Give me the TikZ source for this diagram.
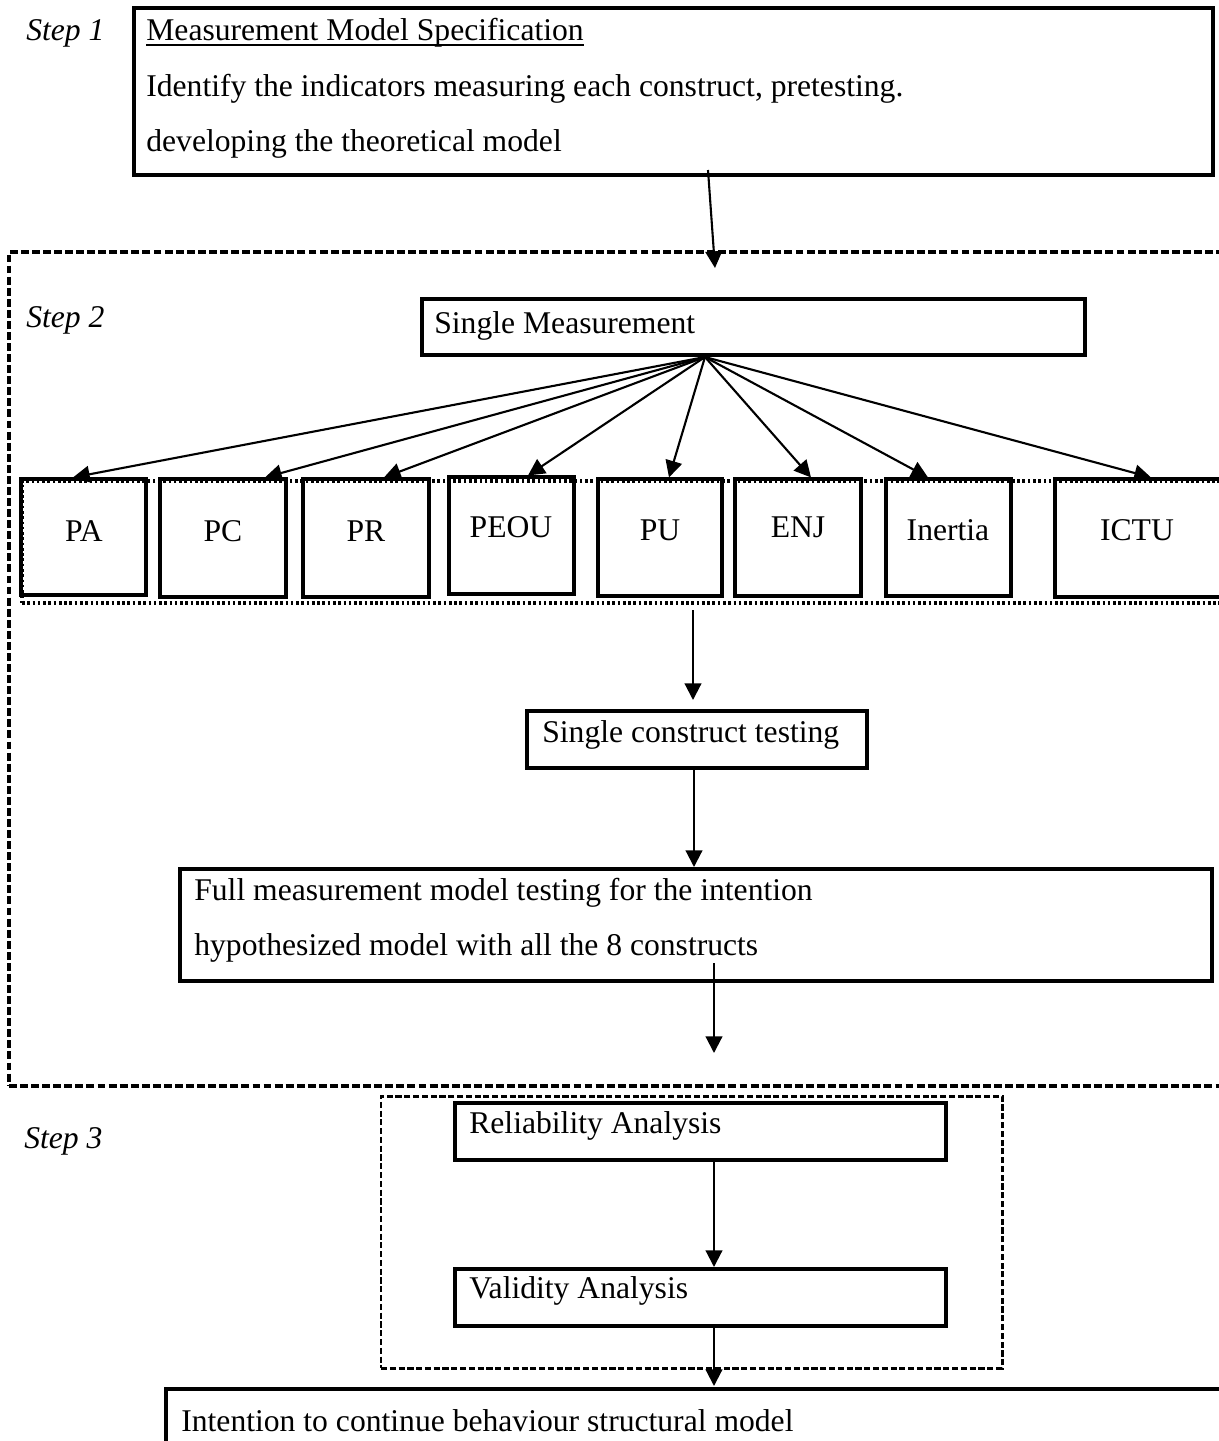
\documentclass[tikz,border=0pt]{standalone}
\usepackage{fontspec}
\setmainfont{Liberation Serif}
\usetikzlibrary{arrows.meta,fit}
\begin{document}
\begin{tikzpicture}[x=0.02cm,y=-0.02cm,
  box/.style={draw,line width=1.8pt,inner sep=0pt},
  txt/.style={inner sep=0pt,anchor=base west,font=\fontsize{18}{22}\selectfont},
  ctxt/.style={inner sep=0pt,anchor=base,font=\fontsize{18}{22}\selectfont},
  steplbl/.style={inner sep=0pt,anchor=base west,font=\fontsize{18}{22}\selectfont\itshape},
  dashbox/.style={draw,line width=1.8pt,dash pattern=on 4.5pt off 1.8pt,inner sep=0pt},
  dashboxthin/.style={draw,line width=1.7pt,dash pattern=on 3.5pt off 1.5pt,inner sep=0pt},
  dotbox/.style={draw,line width=1.9pt,dash pattern=on 1.5pt off 1.5pt,inner sep=0pt},
  arr/.style={line width=1.2pt,-{Triangle[length=9.5pt,width=9.5pt]}}]
\useasboundingbox (0,0) rectangle (1219,1441);
\clip (0,0) rectangle (1219,1441);

% Step 1
\node[steplbl] (s1) at (26,40) {Step 1};
\node[box,fit={(134,8) (1213,175)}] (top) {};
\node[txt] (top1) at (146,40) {Measurement Model Specification};
\draw[line width=1.2pt] ([yshift=-3pt]top1.base west) -- ([yshift=-3pt]top1.base east);
\node[txt] (top2) at (146,96) {Identify the indicators measuring each construct, pretesting.};
\node[txt] (top3) at (146,151) {developing the theoretical model};

% Step 2 container
\node[dashbox,fit={(9,252) (1240,1086)}] (step2) {};
\node[steplbl] (s2) at (26,327) {Step 2};
\coordinate (a1s) at (708,170);
\coordinate (a1e) at (715,268);
\draw[arr] (a1s) -- (a1e);

\node[box,fit={(422,299) (1085,355)}] (sm) {};
\node[txt] (smt) at (434,333) {Single Measurement};
\coordinate (fan) at (705,357);

% constructs
\node[dotbox,fit={(22,481) (1240,603)}] (grp) {};
\node[box,fit={(21,479) (146,595)}] (pa) {};
\node[ctxt] (pat) at (84,541) {PA};
\node[box,fit={(160,479) (286,597)}] (pc) {};
\node[ctxt] (pct) at (223,541) {PC};
\node[box,fit={(303,479) (429,597)}] (pr) {};
\node[ctxt] (prt) at (366,541) {PR};
\node[box,fit={(449,477) (574,594)}] (peou) {};
\node[ctxt] (peout) at (511,537) {PEOU};
\node[box,fit={(598,479) (722,596)}] (pu) {};
\node[ctxt] (put) at (660,540) {PU};
\node[box,fit={(735,479) (861,596)}] (enj) {};
\node[ctxt] (enjt) at (798,537) {ENJ};
\node[box,fit={(886,479) (1011,596)}] (inr) {};
\node[ctxt] (inrt) at (948,540) {Inertia};
\node[box,fit={(1055,479) (1240,597)}] (ictu) {};
\node[ctxt] (ictut) at (1137,540) {ICTU};

\draw[arr] (fan) -- ([xshift=-0.21cm]pa.north);
\draw[arr] (fan) -- ([xshift=0.84cm]pc.north);
\draw[arr] (fan) -- ([xshift=0.36cm]pr.north);
\draw[arr] (fan) -- ([xshift=0.33cm]peou.north);
\draw[arr] (fan) -- ([xshift=0.18cm]pu.north);
\draw[arr] (fan) -- ([xshift=0.26cm]enj.north);
\draw[arr] (fan) -- ([xshift=-0.41cm]inr.north);
\draw[arr] (fan) -- ([xshift=0.07cm]ictu.north);

% single construct testing
\node[box,fit={(527,711) (867,768)}] (sct) {};
\node[txt] (sctt) at (542,742) {Single construct testing};
\coordinate (a2s) at (693,610);
\coordinate (a2e) at (693,700);
\draw[arr] (a2s) -- (a2e);

% full measurement
\node[box,fit={(180,869) (1212,981)}] (full) {};
\node[txt] (full1) at (194,900) {Full measurement model testing for the intention};
\node[txt] (full2) at (194,955) {hypothesized model with all the 8 constructs};
\coordinate (a3s) at (694,768);
\coordinate (a3e) at (694,867);
\draw[arr] (a3s) -- (a3e);
\coordinate (a4s) at (714,963);
\coordinate (a4e) at (714,1053);
\draw[arr] (a4s) -- (a4e);

% Step 3
\node[steplbl] (s3) at (24,1148) {Step 3};
\node[dashboxthin,fit={(381,1096) (1002,1368)}] (step3) {};
\node[box,fit={(455,1103) (946,1160)}] (rel) {};
\node[txt] (relt) at (469,1133) {Reliability Analysis};
\node[box,fit={(455,1269) (946,1326)}] (val) {};
\node[txt] (valt) at (469,1298) {Validity Analysis};
\coordinate (a5s) at (714,1158);
\coordinate (a5e) at (714,1267);
\draw[arr] (a5s) -- (a5e);
\coordinate (a6s) at (714,1326);
\coordinate (a6e) at (714,1386);
\draw[arr] (a6s) -- (a6e);

% final
\node[box,fit={(166,1389) (1240,1470)}] (fin) {};
\node[txt] (fint) at (181,1431) {Intention to continue behaviour structural model};
\end{tikzpicture}
\end{document}
